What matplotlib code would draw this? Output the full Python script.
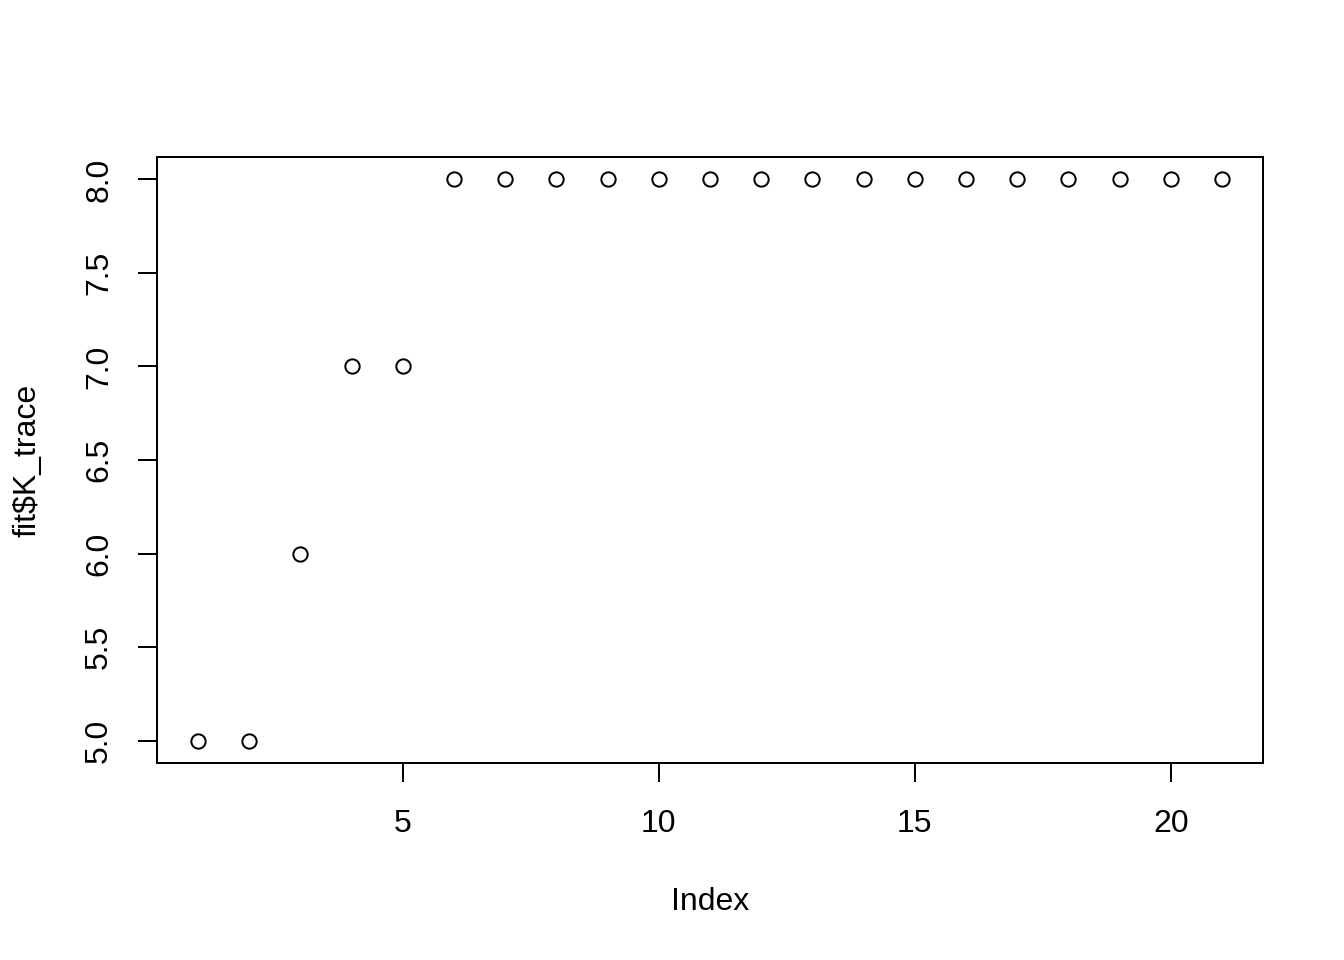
import matplotlib
matplotlib.use("Agg")
import matplotlib.pyplot as plt

plt.rcParams['font.family'] = ['Liberation Sans', 'DejaVu Sans']

index = list(range(1, 22))
k_trace = [5, 5, 6, 7, 7, 8, 8, 8, 8, 8, 8, 8, 8, 8, 8, 8, 8, 8, 8, 8, 8]
x_ticks = [5, 10, 15, 20]
y_ticks = [5.0, 5.5, 6.0, 6.5, 7.0, 7.5, 8.0]

W, H = 1344, 960
fig = plt.figure(figsize=(W / 100, H / 100), dpi=100)
ax = fig.add_axes([157 / W, 1 - 763 / H, (1263 - 157) / W, (763 - 157) / H])

ax.plot(index, k_trace, linestyle='none', marker='o', markersize=10.3,
        markerfacecolor='none', markeredgecolor='black', markeredgewidth=1.44)

ax.set_xlim(0.2, 21.8)
ax.set_ylim(4.88, 8.12)
ax.set_xticks(x_ticks)
ax.set_xticklabels([str(t) for t in x_ticks])
ax.set_yticks(y_ticks)
ax.set_yticklabels([f"{t:.1f}" for t in y_ticks], rotation=90, va='center')

for s in ax.spines.values():
    s.set_linewidth(1.44)

ax.tick_params(axis='both', direction='out', length=13.8, width=1.44,
               labelsize=23, colors='black')
ax.tick_params(axis='x', pad=19)
ax.tick_params(axis='y', pad=17)

fig.text((157 + 1263) / 2 / W, 1 - 910 / H, "Index", ha='center', va='baseline',
         fontsize=23)
fig.text(35 / W, 1 - 460 / H, "fit\\$K_trace", rotation=90, rotation_mode='anchor',
         ha='center', va='baseline', fontsize=23)

fig.savefig("out.png", dpi=100)
